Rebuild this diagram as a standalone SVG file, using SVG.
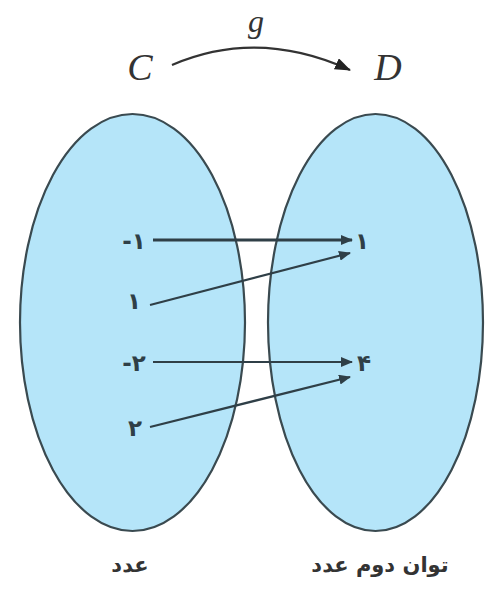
<svg xmlns="http://www.w3.org/2000/svg" width="485" height="594" viewBox="0 0 485 594">
<defs>
<marker id="ah" viewBox="0 0 12 10" refX="11" refY="5" markerWidth="12" markerHeight="10" markerUnits="userSpaceOnUse" orient="auto">
<path d="M0,0 L12,5 L0,10 Z" fill="#2f3f47"/>
</marker>
<marker id="ah2" viewBox="0 0 16 12" refX="15" refY="6" markerWidth="16" markerHeight="12" markerUnits="userSpaceOnUse" orient="auto">
<path d="M0,0 L16,6 L0,12 Z" fill="#222"/>
</marker>
<style>
.set{fill:#b5e5f9;stroke:#3a4a50;stroke-width:2.2}
.arr{stroke:#2f3f47;stroke-width:2.2;fill:none;marker-end:url(#ah)}
.num{font-family:"DejaVu Sans",sans-serif;font-size:23px;font-weight:bold;fill:#2f3f47;text-anchor:middle}
.lbl{font-family:"DejaVu Sans",sans-serif;font-size:21px;font-weight:bold;fill:#333;text-anchor:middle}
.math{font-family:"Liberation Serif",serif;font-style:italic;fill:#333;text-anchor:middle}
</style>
</defs>
<rect width="485" height="594" fill="#fff"/>
<g id="setC">
<ellipse class="set" cx="132.5" cy="322.5" rx="112.5" ry="208.5"/>
<text class="lbl" x="130" y="572">عدد</text>
</g>
<g id="setD">
<ellipse class="set" cx="375.5" cy="322.5" rx="107.5" ry="208.5"/>
<text class="lbl" x="380" y="572">توان دوم عدد</text>
</g>
<g id="labels">
<text class="math" x="140" y="80" font-size="38">C</text>
<text class="math" x="388" y="80" font-size="38">D</text>
<text class="math" x="256" y="32" font-size="32">g</text>
</g>
<g id="elements">
<text class="num" x="134" y="249" direction="ltr">-۱</text>
<text class="num" x="134" y="309">۱</text>
<text class="num" x="134" y="371" direction="ltr">-۲</text>
<text class="num" x="135" y="436">۲</text>
<text class="num" x="362" y="249">۱</text>
<text class="num" x="364" y="371">۴</text>
</g>
<g id="connectors">
<path d="M172,65 Q258,28 350,70" fill="none" stroke="#333" stroke-width="2.2" marker-end="url(#ah2)"/>
<line class="arr" x1="153" y1="240" x2="352" y2="240" style="stroke-width:3"/>
<line class="arr" x1="150" y1="305" x2="350" y2="253"/>
<line class="arr" x1="153" y1="362" x2="352" y2="362"/>
<line class="arr" x1="150" y1="427" x2="350" y2="377"/>
</g>
</svg>
